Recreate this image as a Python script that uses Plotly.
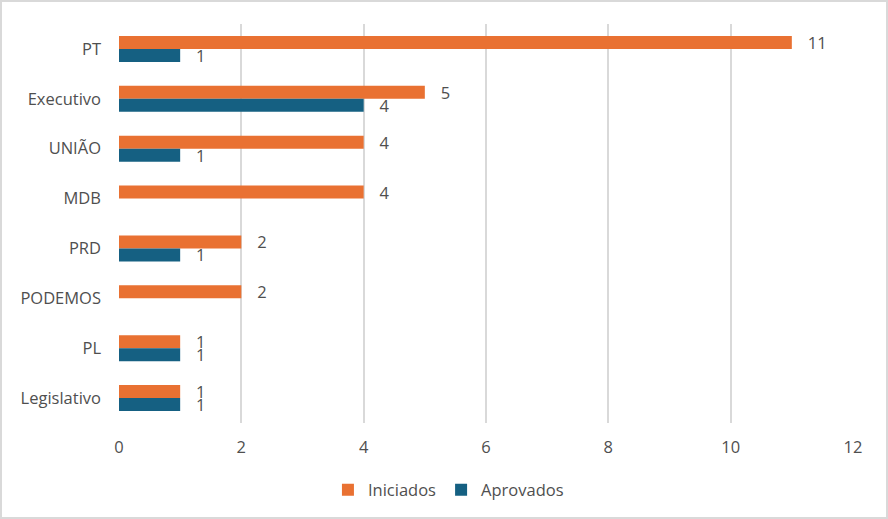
import plotly.graph_objects as go

categorias = ["PT", "Executivo", "UNIÃO", "MDB", "PRD", "PODEMOS", "PL", "Legislativo"]
iniciados = [11, 5, 4, 4, 2, 2, 1, 1]
aprovados = [1, 4, 1, None, 1, None, 1, 1]
x_ticks = [0, 2, 4, 6, 8, 10, 12]

ORANGE = "#E97132"
BLUE = "#156082"
TEXT = "#4F4F4F"
GRID = "#D9D9D9"
FONT = "Open Sans"
FS = 16.5

fig = go.Figure()
fig.add_trace(go.Bar(
    name="Iniciados", y=categorias, x=iniciados, orientation="h",
    marker=dict(color=ORANGE, line=dict(width=0)),
    text=[("   " + str(v)) if v is not None else "" for v in iniciados],
    textposition="outside", constraintext="none", cliponaxis=False,
    textfont=dict(color=TEXT, size=FS, family=FONT),
))
fig.add_trace(go.Bar(
    name="Aprovados", y=categorias, x=aprovados, orientation="h",
    marker=dict(color=BLUE, line=dict(width=0)),
    text=[("   " + str(v)) if v is not None else "" for v in aprovados],
    textposition="outside", constraintext="none", cliponaxis=False,
    textfont=dict(color=TEXT, size=FS, family=FONT),
))

L, R, T, B = 119, 35, 24, 96
W, H = 888, 519
pw, ph = W - L - R, H - T - B

fig.update_layout(
    width=W, height=H,
    margin=dict(l=L, r=R, t=T, b=B, pad=0, autoexpand=False),
    paper_bgcolor="white", plot_bgcolor="white",
    barmode="group", bargap=0.48, bargroupgap=0,
    font=dict(family=FONT, size=FS, color=TEXT),
    showlegend=True,
    legend=dict(orientation="h", xref="container", x=0.505, xanchor="center",
                yref="container", y=0.022, yanchor="bottom",
                font=dict(size=FS, color=TEXT, family=FONT),
                itemwidth=30, traceorder="normal"),
    xaxis=dict(range=[0, 12], tickvals=x_ticks, showgrid=True, gridcolor=GRID,
               gridwidth=1.5, zeroline=False, showline=False, automargin=False,
               tickfont=dict(size=FS, color=TEXT), ticks="", ticklabelstandoff=12),
    yaxis=dict(autorange="reversed", showgrid=False, zeroline=False, showline=False,
               automargin=False,
               tickfont=dict(size=FS, color=TEXT), ticks="", ticklabelstandoff=17),
    shapes=[dict(type="rect", xref="paper", yref="paper",
                 x0=(1 - L) / pw, x1=(W - 1 - L) / pw,
                 y0=(T + ph - (H - 1)) / ph, y1=(T + ph - 1) / ph,
                 line=dict(color=GRID, width=2), layer="above")],
)

fig.write_html("out.html", config={"displayModeBar": False},
               post_script="document.body.style.margin='0';document.body.style.overflow='hidden';")
